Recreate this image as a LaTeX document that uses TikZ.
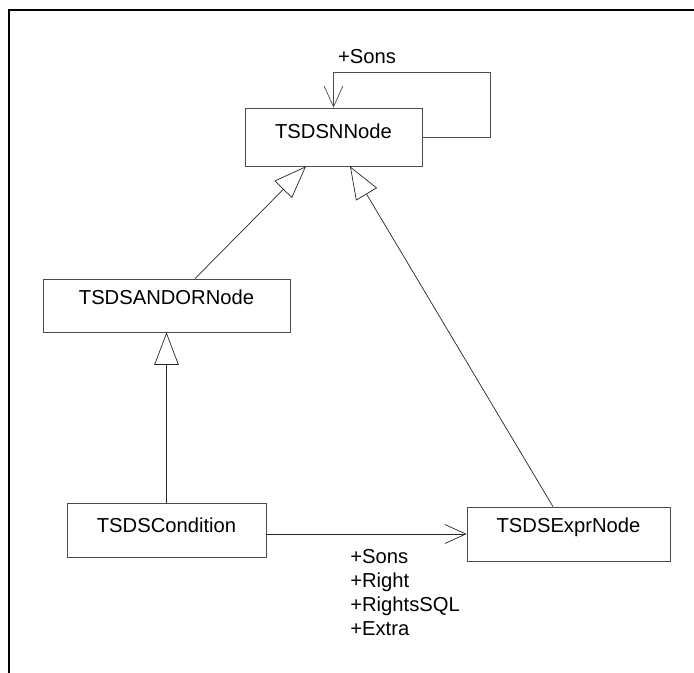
\documentclass[tikz,border=0pt]{standalone}
\usepackage{fontspec}
\setmainfont{Liberation Sans}
\usetikzlibrary{arrows.meta, positioning}

\tikzset{
  classbox/.style={rectangle, draw=black!70, inner sep=0pt, text height=0.54cm, text depth=0.53cm, font=\fontsize{11.5}{13}\selectfont},
  inherit/.style={-{Triangle[open, length=0.65cm, width=0.49cm]}, black!85},
  assoc/.style={-{Straight Barb[length=0.42cm, width=0.38cm]}, black!85},
  rolelabel/.style={font=\fontsize{11.5}{13.6}\selectfont, inner sep=0pt}
}

\begin{document}
\begin{tikzpicture}[x=0.02cm, y=-0.02cm]
  \useasboundingbox (0,0) rectangle (694,673);
  % Rahmen
  \coordinate (framebl) at (9,673);
  \coordinate (frametr) at (694,10);
  \draw[line width=1.7pt] (framebl) |- (frametr);

  % Klassen
  \node[classbox, minimum width=3.54cm, text height=0.6cm, text depth=0.56cm] (nnode) at (333.5,137) {TSDSNNode};
  \node[classbox, minimum width=4.94cm, text height=0.5cm, text depth=0.56cm] (andor) at (166.5,305.5) {TSDSANDORNode};
  \node[classbox, minimum width=3.98cm, text height=0.58cm, text depth=0.5cm] (cond) at (166.5,530) {TSDSCondition};
  \node[classbox, minimum width=4.06cm, text height=0.5cm, text depth=0.58cm] (expr) at (568.5,534) {TSDSExprNode};

  % Vererbung
  \draw[inherit] ([xshift=0.57cm]andor.north) -- ([xshift=-0.55cm]nnode.south);
  \draw[inherit] ([xshift=-0.31cm]expr.north) -- ([xshift=0.33cm]nnode.south);
  \draw[inherit] (cond.north) -- (andor.south);

  % Assoziationen
  \coordinate (loopcorner) at (490,72);
  \draw[assoc, black!70] (nnode.east) -| (loopcorner) -| (nnode.north);
  \node[rolelabel] (sonslabel) at (367,57) {+Sons};
  \draw[assoc] (cond.east |- expr.west) -- (expr.west);
  \node[rolelabel, align=left, anchor=north west] (rolelist) at (350,549) {+Sons\\+Right\\+RightsSQL\\+Extra};
\end{tikzpicture}
\end{document}
